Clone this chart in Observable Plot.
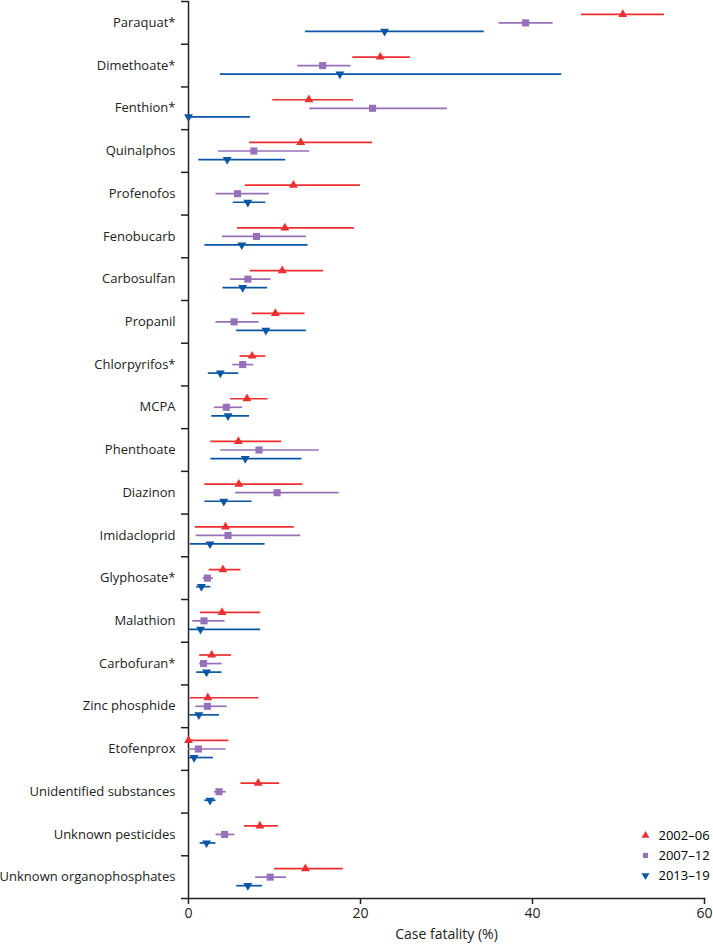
<!DOCTYPE html>
<html><head><meta charset="utf-8">
<script src="https://cdn.jsdelivr.net/npm/d3@7"></script>
<script src="https://cdn.jsdelivr.net/npm/@observablehq/plot@0.6"></script>
<style>
body{margin:0;background:#fff;font-family:"Open Sans",sans-serif;overflow:hidden;}
#chart{position:relative;width:713px;height:947px;}
#legend{position:absolute;left:639px;top:826px;width:90px;white-space:nowrap;}
#legend div[class$="-swatch"]{margin-bottom:1px;}
</style></head><body><div id="chart"><div id="legend"></div></div>
<script>
const categories = ["Paraquat*","Dimethoate*","Fenthion*","Quinalphos","Profenofos","Fenobucarb","Carbosulfan","Propanil","Chlorpyrifos*","MCPA","Phenthoate","Diazinon","Imidacloprid","Glyphosate*","Malathion","Carbofuran*","Zinc phosphide","Etofenprox","Unidentified substances","Unknown pesticides","Unknown organophosphates"];
const periods = ["2002–06","2007–12","2013–19"];

const est0206 = [50.5,22.3,14.0,13.05,12.2,11.2,10.9,10.1,7.4,6.8,5.8,5.85,4.3,4.0,3.9,2.7,2.25,0.0,8.1,8.3,13.6];
const lo0206  = [45.7,19.1,9.8,7.1,6.6,5.7,7.2,7.4,6.0,4.9,2.6,1.9,0.8,2.4,1.4,1.3,0.2,0.0,6.1,6.5,10.0];
const hi0206  = [55.35,25.8,19.2,21.4,20.0,19.3,15.7,13.55,9.0,9.25,10.85,13.3,12.3,6.1,8.4,5.0,8.2,4.7,10.6,10.45,18.0];

const est0712 = [39.2,15.6,21.4,7.6,5.7,7.9,6.9,5.3,6.3,4.4,8.2,10.3,4.6,2.2,1.8,1.75,2.2,1.15,3.55,4.2,9.5];
const lo0712  = [36.1,12.7,14.1,3.5,3.2,3.95,4.9,3.2,5.15,3.0,3.75,5.5,0.9,1.7,0.5,1.3,0.85,0.0,3.0,3.2,7.8];
const hi0712  = [42.4,18.9,30.1,14.1,9.4,13.7,9.6,8.2,7.6,6.3,15.2,17.5,13.05,2.9,4.25,3.9,4.5,4.35,4.4,5.4,11.4];

const est1319 = [22.8,17.6,0.0,4.5,6.9,6.2,6.3,9.0,3.7,4.6,6.6,4.1,2.5,1.5,1.4,2.1,1.2,0.65,2.5,2.1,6.9];
const lo1319  = [13.6,3.7,0.0,1.2,5.2,1.9,4.0,5.6,2.3,2.7,2.6,1.9,0.2,0.95,0.1,0.95,0.15,0.1,1.9,1.35,5.6];
const hi1319  = [34.4,43.4,7.2,11.3,9.0,13.9,9.2,13.7,5.85,7.1,13.2,7.4,8.9,2.6,8.4,3.9,3.6,2.9,3.2,3.2,8.6];

const xTicks = [0,20,40,60];
const colors = ["#ee2f2f","#9670b8","#0b56a3"];
const offsets = [-0.2, 0, 0.2];

const triangleDown = {
  draw(context, size) {
    const y = -Math.sqrt(size / (Math.sqrt(3) * 3));
    context.moveTo(0, -y * 2);
    context.lineTo(-Math.sqrt(3) * y, y);
    context.lineTo(Math.sqrt(3) * y, y);
    context.closePath();
  }
};

const seriesData = [[est0206,lo0206,hi0206],[est0712,lo0712,hi0712],[est1319,lo1319,hi1319]];
const rows = [];
seriesData.forEach(([est, lo, hi], s) => {
  categories.forEach((c, i) => {
    rows.push({category: c, series: periods[s], s, pos: i + offsets[s], est: est[i], lo: lo[i], hi: hi[i]});
  });
});

const bounds = d3.range(categories.length + 1).map(i => i - 0.5);
const idx = d3.range(categories.length);

const plot = Plot.plot({
  width: 713,
  height: 947,
  marginLeft: 188,
  marginRight: 9,
  marginTop: 1,
  marginBottom: 49,
  style: {fontFamily: "Open Sans, sans-serif", fontSize: "13px", color: "#222"},
  x: {domain: [0, 60], ticks: xTicks, label: null},
  y: {domain: [-0.5, categories.length - 0.5], reverse: true, label: null, axis: null},
  color: {domain: periods, range: colors},
  symbol: {domain: periods, range: [d3.symbolTriangle, d3.symbolSquare, triangleDown]},
  marks: [
    Plot.axisY(idx, {tickSize: 0, tickPadding: 13, tickFormat: i => categories[i], fontSize: 13}),
    Plot.axisY(bounds, {tickSize: 7, tickFormat: () => "", stroke: "#222", strokeWidth: 1.5}),
    Plot.axisX(xTicks, {tickSize: 6, tickPadding: 4, strokeWidth: 1.5, fontSize: 14, label: "Case fatality (%)", labelAnchor: "center", labelArrow: "none", labelOffset: 40}),
    Plot.frame({anchor: "left", stroke: "#222", strokeWidth: 1.5}),
    Plot.frame({anchor: "bottom", stroke: "#222", strokeWidth: 1.5}),
    Plot.ruleY(rows, {y: "pos", x1: "lo", x2: "hi", stroke: "series", strokeWidth: 1.7}),
    Plot.dot(rows.filter(d => d.s !== 1), {x: "est", y: "pos", fill: "series", symbol: "series", r: 3.3}),
    Plot.dot(rows.filter(d => d.s === 1), {x: "est", y: "pos", fill: "series", symbol: "series", r: 4})
  ]
});
document.getElementById("chart").prepend(plot);
const leg = plot.legend("symbol", {columns: 1, r: 3.6, swatchSize: 13, style: {fontFamily: "Open Sans, sans-serif", fontSize: "13px"}});
document.getElementById("legend").appendChild(leg);
</script></body></html>
